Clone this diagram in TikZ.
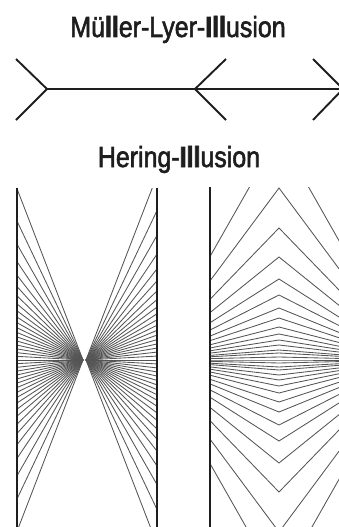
\documentclass[tikz,border=0pt]{standalone}
\usepackage{fontspec}
\newfontfamily\titlefont[FakeBold=2.2,BoldFeatures={FakeBold=3}]{Liberation Sans}
\definecolor{ink}{HTML}{1E1E1E}
\definecolor{fan}{HTML}{555555}
\newcommand{\ttl}[1]{\scalebox{0.86}[1]{\titlefont\fontsize{29}{33}\selectfont #1}}
\begin{document}
\begin{tikzpicture}[x=1pt,y=-1pt,
  titletext/.style={text=ink, inner sep=0pt, anchor=base},
  mlline/.style={draw=ink, line width=1.9pt, line join=miter},
  wall/.style={draw=ink, line width=2.6pt},
  fanline/.style={draw=fan, line width=0.85pt},
  chevron/.style={draw=fan, line width=0.85pt, line join=miter}]
\useasboundingbox (0,0) rectangle (339,527);
\clip (0,0) rectangle (339,527);

% titles
\node[titletext] (t1) at (178,37) {\ttl{Mü\textbf{ll}er-Lyer-\textbf{Ill}usion}};
\node[titletext] (t2) at (179,167) {\ttl{Hering-\textbf{Ill}usion}};

% Mueller-Lyer figure
\coordinate (ma) at (47,89);
\coordinate (mb) at (195,89);
\coordinate (mc) at (343,89);
\draw[mlline] (ma) -- (mc);
\draw[mlline] (16,59) -- (ma) -- (16,120);
\draw[mlline] (226,59) -- (mb) -- (226,120);
\draw[mlline] (313,59) -- (mc) -- (313,120);

% Hering: left panel (fans)
\begin{scope}
  \clip (17,188) rectangle (157,540);
  \foreach \k in {-19,...,19} {
    \pgfmathsetmacro\s{(55/66)*tan(3.8*\k)}
    \draw[fanline] (83,360) -- (17,{360-66*\s});
    \draw[fanline] (86,360) -- (157,{360-71*\s});
  }
\end{scope}
\draw[wall] (17,188) -- (17,540);
\draw[wall] (157,188) -- (157,540);

% Hering: right panel (chevrons)
\begin{scope}
  \clip (210,187) rectangle (348,540);
  \foreach \h in {-225,-172,-132,-103,-81,-65,-52,-42,-33,-26,-20,-15,-10,-7,-3,0,3,7,10,15,20,26,33,42,52,65,81,103,132,172,225} {
    \draw[chevron] (210,{360-0.46*\h}) -- (279,{360-\h}) -- (348,{360-0.46*\h});
  }
\end{scope}
\draw[wall] (210,187) -- (210,540);
\draw[wall] (348,187) -- (348,540);
\end{tikzpicture}
\end{document}
